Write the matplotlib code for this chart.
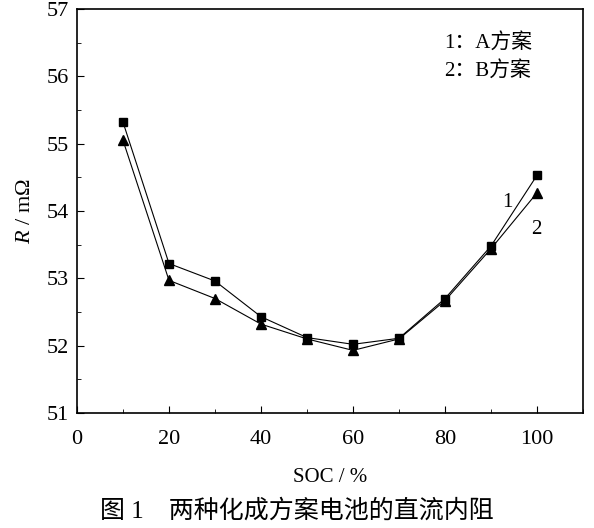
import matplotlib.pyplot as plt
from matplotlib.ticker import MultipleLocator

plt.rcParams['font.family'] = ['Liberation Serif', 'Noto Sans CJK SC']
plt.rcParams['mathtext.fontset'] = 'custom'
plt.rcParams['mathtext.rm'] = 'Liberation Serif'
plt.rcParams['mathtext.it'] = 'Liberation Serif:italic'

soc = [10, 20, 30, 40, 50, 60, 70, 80, 90, 100]
r_a = [55.32, 53.22, 52.96, 52.43, 52.12, 52.02, 52.11, 52.70, 53.48, 54.53]
r_b = [55.05, 52.97, 52.70, 52.32, 52.10, 51.93, 52.10, 52.67, 53.44, 54.27]

fig = plt.figure(figsize=(5.94, 5.28), dpi=100)
ax = fig.add_axes([0.1296, 0.2178, 0.8519, 0.7652])

ax.plot(soc, r_a, color='black', lw=0.8, marker='s', ms=6)
ax.plot(soc, r_b, color='black', lw=0.8, marker='^', ms=7)

ax.set_xlim(0, 110)
ax.set_ylim(51, 57)
ax.xaxis.set_major_locator(MultipleLocator(20))
ax.xaxis.set_minor_locator(MultipleLocator(10))
ax.yaxis.set_major_locator(MultipleLocator(1))
ax.yaxis.set_minor_locator(MultipleLocator(0.5))
ax.tick_params(which='both', direction='in', top=False, right=False, labelsize=16)
ax.tick_params(which='major', length=5)
ax.tick_params(which='minor', length=3)
ax.tick_params(axis='x', pad=12)
ax.tick_params(axis='y', pad=6)
for s in ax.spines.values():
    s.set_linewidth(1.2)

ax.set_xlabel('SOC / %', fontsize=15, labelpad=14)
ax.set_ylabel('$R$ / m$\\Omega$', fontsize=16, labelpad=8)

ax.text(0.725, 0.915, '1：A方案', transform=ax.transAxes, fontsize=15, va='center')
ax.text(0.725, 0.848, '2：B方案', transform=ax.transAxes, fontsize=15, va='center')
ax.annotate('1', (93.5, 54.12), fontsize=15, ha='center', va='center')
ax.annotate('2', (99.8, 53.73), fontsize=15, ha='center', va='center')

fig.text(0.5, 0.033, '图 1　两种化成方案电池的直流内阻', fontsize=18, ha='center', va='center')

fig.savefig('out.png', dpi=100)
